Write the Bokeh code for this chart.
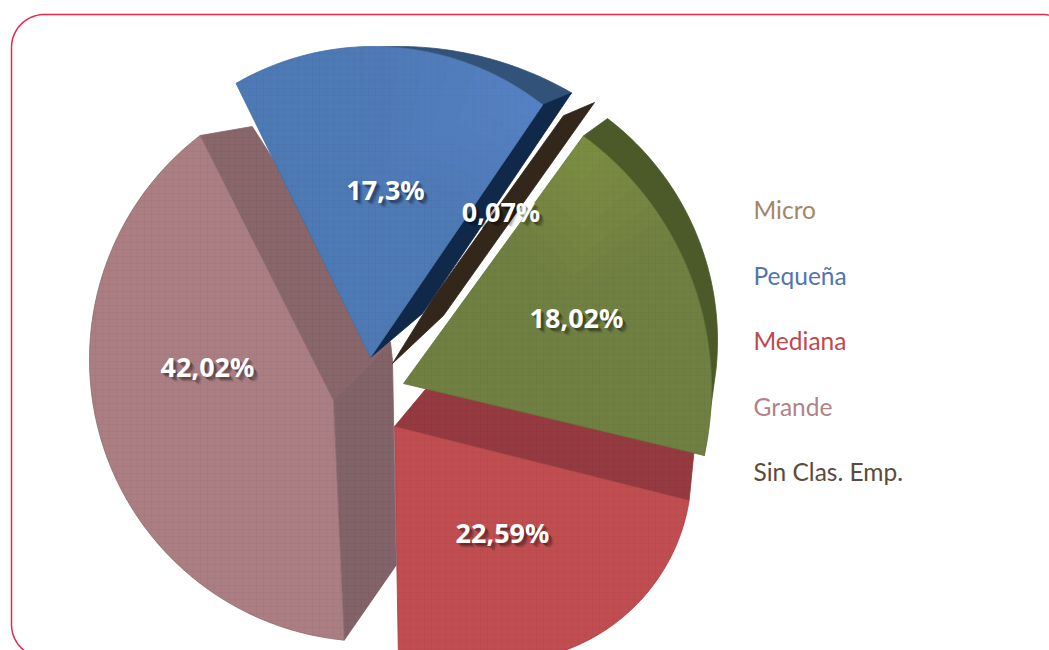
import math
from bokeh.plotting import figure
from bokeh.models import Range1d
from bokeh.core.properties import value
from bokeh.embed import file_html
from bokeh.resources import INLINE

# ---- data
categories = ["Micro", "Pequeña", "Mediana", "Grande", "Sin Clas. Emp."]
shares = [18.02, 17.3, 22.59, 42.02, 0.07]   # shown on slices
legend_names = categories
legend_colors = ["#a28763", "#4f76ae", "#c0484e", "#b0838a", "#5b4b3b"]

# ---- layout of the tilted, exploded pie (page pixels)
W, H = 1049, 650
p = figure(width=W, height=H, x_range=Range1d(0, W), y_range=Range1d(H, 0),
           toolbar_location=None, output_backend="svg", min_border=0)
p.axis.visible = False
p.grid.visible = False
p.outline_line_color = None
p.background_fill_color = "white"
p.border_fill_color = "white"


def arc(c, r, a0, sweep, n=60):
    return [(c[0] + r * math.cos(math.radians(a0 + sweep * i / n)),
             c[1] - r * math.sin(math.radians(a0 + sweep * i / n))) for i in range(n + 1)]


def add(pts, v):
    return (pts[0] + v[0], pts[1] + v[1])


def poly(pts, fill, line=None, lw=0.8, hatch=True, alpha=1.0, line_alpha=1.0):
    kw = {}
    if hatch:
        kw = dict(hatch_pattern="cross", hatch_color="#000000", hatch_alpha=0.028,
                  hatch_scale=7, hatch_weight=1)
    p.patch([a for a, _ in pts], [b for _, b in pts], fill_color=fill, fill_alpha=alpha,
            line_color=line if line else fill, line_width=lw, line_alpha=line_alpha, **kw)


def glow(apex, rim, color, steps=7, alpha=0.05, depth=0.5):
    """Soft lighter patch hugging one end of a face's rim and its straight edge."""
    for i in range(1, steps + 1):
        f = i / steps
        outer = rim[:max(2, int(len(rim) * f))]
        inner = [(x + (apex[0] - x) * depth * f, y + (apex[1] - y) * depth * f) for x, y in outer]
        pts = outer + inner[::-1]
        p.patch([a for a, _ in pts], [b for _, b in pts], fill_color=color, fill_alpha=alpha,
                line_color=None)


share = dict(zip(["olive", "blue", "red", "rose", "sliver"], shares))

# red (Mediana)
red_apex = (394, 426)
red_arc = arc((500, 470), 191, -9, -share["red"] * 3.6)
poly([red_apex, add(red_apex, (35, -42)), add(red_arc[0], (5, -50)), red_arc[0]], "#953a40")
poly([red_apex] + red_arc + [(398, red_arc[-1][1])], "#c04d50", "#a84044")

# olive
olive_apex = (403, 383)
olive_arc = arc((398, 388), 313, 53.8, -share["olive"] * 3.6 * 1.02)
olive_rim = arc((438, 340), 279, 52.7, -share["olive"] * 3.6 * 0.905)
poly(olive_rim + [olive_arc[-1], olive_arc[0]], "#4c5a2a", hatch=False)
poly([olive_apex] + olive_arc, "#707f42", "#66753a")
glow(olive_apex, olive_arc[:24], "#a5b255", depth=0.4)

# rose (Grande)
rose_apex = (333, 400)
rose_arc = arc((371, 359), 282, 127.4, share["rose"] * 3.6 * 0.906)
rose_side_top = add(rose_apex, (57, -58))
poly([rose_arc[0], add(rose_arc[0], (52, -9)), rose_side_top, rose_apex], "#88666a")
poly([rose_apex, rose_side_top, add(rose_apex, (59, -40)), add(rose_arc[-1], (52, -75)), rose_arc[-1]],
     "#816368")
poly([rose_apex] + rose_arc, "#ab7e84", "#8d6a6e")

# blue (Pequeña)
blue_apex = (370, 357)
blue_arc = arc((373, 321), 275, 120, -share["blue"] * 3.6 * 1.092)
blue_rim = arc((398, 392), 346, 93, -share["blue"] * 3.6 * 0.53)
poly(blue_rim + [blue_arc[-1]], "#33527a", hatch=False)
poly([blue_apex, blue_arc[-1], blue_rim[-1], add(blue_apex, (52, -44))], "#10294a", hatch=False)
poly([blue_apex] + blue_arc, "#4d79b5", "#46709f")
glow(blue_apex, blue_arc[::-1][:36], "#6fa5e2", depth=0.45)

# sliver (Sin Clas. Emp.)
sliver_apex = (392, 363)
sliver_arc = arc(sliver_apex, 301, 55.4, -share["sliver"] * 3.6, n=2)
poly([sliver_apex, add(sliver_apex, (41, -66)), sliver_arc[0], add(sliver_arc[-1], (30, -14)),
      add(sliver_apex, (51, -48))], "#33261a", hatch=False)

# frame with round corners, running off the page on the right and at the bottom
fl, ft, fr, fb, fc = 11, 14, 1075, 657, 33
frame = (arc((fl + fc, ft + fc), fc, 180, -90, 24) + arc((fr - fc, ft + fc), fc, 90, -90, 24) +
         arc((fr - fc, fb - fc), fc, 0, -90, 24) + arc((fl + fc, fb - fc), fc, 270, -90, 24))
frame.append(frame[0])
p.line([a for a, _ in frame], [b for _, b in frame], line_color="#e8274b", line_width=1.5)

# value labels with a soft drop shadow
label_x = [385, 500.5, 502, 207, 576]
label_y = [189, 211, 532, 366, 317]
label_vals = [shares[1], shares[4], shares[2], shares[3], shares[0]]
label_txt = [str(v).replace(".", ",") + "%" for v in label_vals]
for dx, dy, a in [(5, 5, 0.08), (4, 4, 0.12), (3, 3, 0.18), (2, 2, 0.2)]:
    p.text([x + dx for x in label_x], [y + dy for y in label_y], text=label_txt,
           text_color="#000000", text_alpha=a, text_align="center", text_baseline="alphabetic",
           text_font=value("Noto Sans"), text_font_style="bold", text_font_size="27px")
p.text(label_x, label_y, text=label_txt, text_color="#ffffff", text_align="center",
       text_baseline="alphabetic", text_font=value("Noto Sans"), text_font_style="bold",
       text_font_size="27px")

# legend as plain text
legend_y = [209, 275, 340, 406, 471]
p.text([753] * 5, legend_y, text=legend_names, text_color=legend_colors, text_align="left",
       text_baseline="alphabetic", text_font=value("Lato"), text_font_size="24.5px")

open("out.html", "w").write(file_html(p, INLINE))
